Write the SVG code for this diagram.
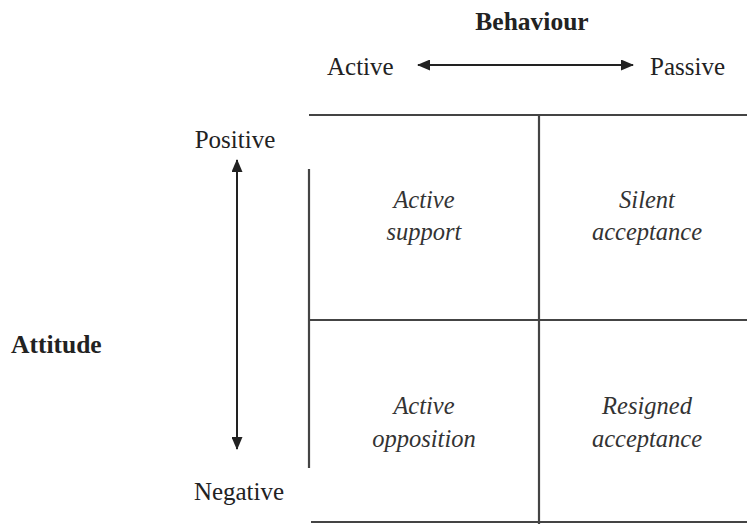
<svg xmlns="http://www.w3.org/2000/svg" width="747" height="524" viewBox="0 0 747 524">
<style>
text{font-family:'Liberation Serif','DejaVu Serif','Noto Serif',serif;fill:#222}
.lbl{font-size:25px}
.b{font-weight:bold;font-size:25.5px}
.q{font-style:italic;font-size:24.5px;fill:#333;text-anchor:middle}
.grid{stroke:#444;stroke-width:2.2;fill:none}
.arr{stroke:#222;stroke-width:2;fill:none;marker-start:url(#ah);marker-end:url(#ah)}
</style>
<defs>
<marker id="ah" viewBox="0 0 13 11" refX="12" refY="5.5" markerWidth="13" markerHeight="11" markerUnits="userSpaceOnUse" orient="auto-start-reverse">
<path d="M0,0 L13,5.5 L0,11 z" fill="#222"/>
</marker>
</defs>
<rect width="747" height="524" fill="#fff"/>
<g id="axis-labels">
<text class="lbl b" x="532" y="30" text-anchor="middle">Behaviour</text>
<text class="lbl" x="327" y="75">Active</text>
<text class="lbl" x="650" y="75">Passive</text>
<text class="lbl" x="235" y="148" text-anchor="middle">Positive</text>
<text class="lbl" x="239" y="500" text-anchor="middle">Negative</text>
<text class="lbl b" x="11" y="353">Attitude</text>
</g>
<g id="connectors">
<line class="arr" x1="418" y1="65" x2="633" y2="65"/>
<line class="arr" x1="237" y1="160" x2="237" y2="449"/>
</g>
<g id="grid">
<line class="grid" x1="309" y1="115" x2="747" y2="115"/>
<line class="grid" x1="309" y1="320" x2="747" y2="320"/>
<line class="grid" x1="311" y1="522" x2="747" y2="522"/>
<line class="grid" x1="309" y1="169" x2="309" y2="468"/>
<line class="grid" x1="539" y1="115" x2="539" y2="524"/>
</g>
<g id="q-active-support">
<text class="q" x="424" y="208">Active</text>
<text class="q" x="424" y="240">support</text>
</g>
<g id="q-silent-acceptance">
<text class="q" x="647" y="208">Silent</text>
<text class="q" x="647" y="240">acceptance</text>
</g>
<g id="q-active-opposition">
<text class="q" x="424" y="414">Active</text>
<text class="q" x="424" y="447">opposition</text>
</g>
<g id="q-resigned-acceptance">
<text class="q" x="647" y="414">Resigned</text>
<text class="q" x="647" y="447">acceptance</text>
</g>
</svg>
